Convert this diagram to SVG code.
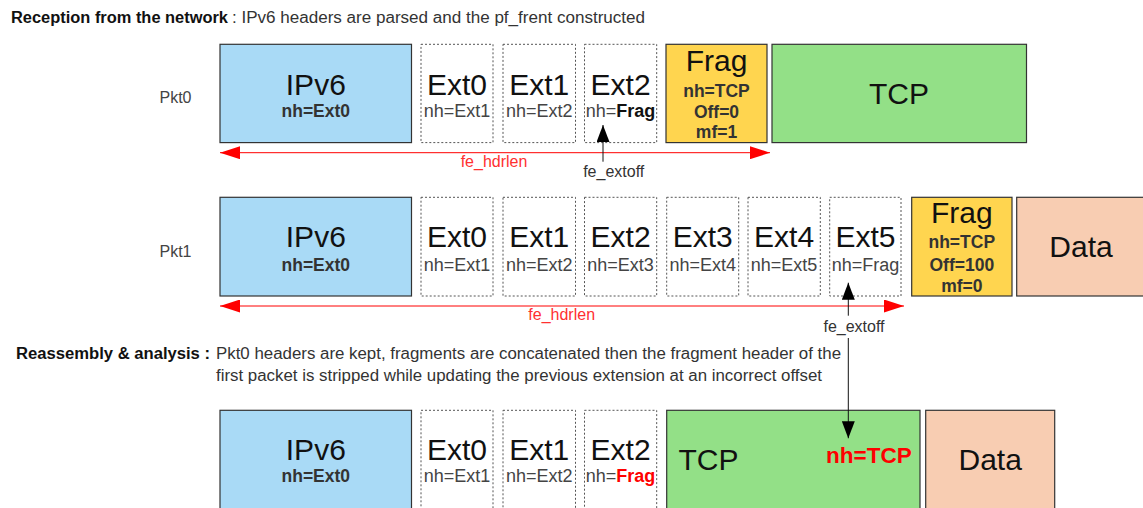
<svg xmlns="http://www.w3.org/2000/svg" width="1143" height="508" viewBox="0 0 1143 508">
<defs>
<style>
text{font-family:"Liberation Sans",Arial,sans-serif}
.box{stroke:#333;stroke-width:1.2}
.ipv6{fill:#a9daf6}
.frag{fill:#ffd54f}
.tcp{fill:#93e087}
.data{fill:#f8cdb2}
.ext{fill:#fff;stroke:#555;stroke-width:1;stroke-dasharray:2,2}
.big{font-size:30px;fill:#111;text-anchor:middle}
.sub{font-size:18px;fill:#444;text-anchor:middle}
.subb{font-size:17.5px;font-weight:bold;fill:#333;text-anchor:middle}
.lbl{font-size:16px;fill:#444}
.hdr{font-size:16px;fill:#333}
.hdrb{font-size:16px;fill:#111;font-weight:bold}
.red{stroke:#ff0000;stroke-width:1;fill:none}
.blk{stroke:#111;stroke-width:1;fill:none}
</style>
<marker id="ra" markerUnits="userSpaceOnUse" markerWidth="20" markerHeight="13" refX="20" refY="6.5" orient="auto-start-reverse"><path d="M0,0 L20,6.5 L0,13 z" fill="#ff0000"/></marker>
<marker id="ba" markerUnits="userSpaceOnUse" markerWidth="17" markerHeight="13" refX="17" refY="6.5" orient="auto"><path d="M0,0 L17,6.5 L0,13 z" fill="#000"/></marker>
</defs>
<rect width="1143" height="508" fill="#fff"/>

<g id="title">
<text x="11" y="23.3" class="hdrb" textLength="217" lengthAdjust="spacingAndGlyphs">Reception from the network</text>
<text x="232" y="23.3" class="hdr" textLength="413" lengthAdjust="spacingAndGlyphs">: IPv6 headers are parsed and the pf_frent constructed</text>
</g>
<g id="title2">
<text x="16" y="359" class="hdrb" textLength="194" lengthAdjust="spacingAndGlyphs">Reassembly &amp; analysis :</text>
<text x="216" y="359" class="hdr" textLength="625" lengthAdjust="spacingAndGlyphs">Pkt0 headers are kept, fragments are concatenated then the fragment header of the</text>
<text x="216" y="381" class="hdr" textLength="606" lengthAdjust="spacingAndGlyphs">first packet is stripped while updating the previous extension at an incorrect offset</text>
</g>

<g id="pkt0-label"><text x="159.5" y="103.3" class="lbl">Pkt0</text></g>
<g id="pkt1-label"><text x="159.5" y="256.7" class="lbl">Pkt1</text></g>

<!-- Row 0 -->
<g id="r0-ipv6"><rect x="220" y="44.3" width="191.5" height="98.3" class="box ipv6"/><text x="315.8" y="95" class="big">IPv6</text><text x="315.8" y="116.7" class="subb">nh=Ext0</text></g>
<g id="r0-ext0"><rect x="421" y="44.3" width="72" height="98.3" class="ext"/><text x="457" y="95" class="big">Ext0</text><text x="457" y="116.7" class="sub">nh=Ext1</text></g>
<g id="r0-ext1"><rect x="503" y="44.3" width="72.5" height="98.3" class="ext"/><text x="539.2" y="95" class="big">Ext1</text><text x="539.2" y="116.7" class="sub">nh=Ext2</text></g>
<g id="r0-ext2"><rect x="584.5" y="44.3" width="72.2" height="98.3" class="ext"/><text x="620.6" y="95" class="big">Ext2</text><text x="620.6" y="116.7" class="sub">nh=<tspan font-weight="bold" fill="#111">Frag</tspan></text></g>
<g id="r0-frag"><rect x="666" y="44.3" width="101" height="98.3" class="box frag"/><text x="716.5" y="71" class="big">Frag</text><text x="716.5" y="96.7" class="subb">nh=TCP</text><text x="716.5" y="117.7" class="subb">Off=0</text><text x="716.5" y="138.3" class="subb">mf=1</text></g>
<g id="r0-tcp"><rect x="772" y="44.3" width="254.5" height="98.3" class="box tcp"/><text x="899" y="104" class="big">TCP</text></g>

<!-- Row 1 -->
<g id="r1-ipv6"><rect x="220" y="197.3" width="191.5" height="98.7" class="box ipv6"/><text x="315.8" y="246.7" class="big">IPv6</text><text x="315.8" y="271" class="subb">nh=Ext0</text></g>
<g id="r1-ext0"><rect x="421" y="197.3" width="72" height="98.7" class="ext"/><text x="457" y="246.7" class="big">Ext0</text><text x="457" y="271" class="sub">nh=Ext1</text></g>
<g id="r1-ext1"><rect x="503" y="197.3" width="72.5" height="98.7" class="ext"/><text x="539.2" y="246.7" class="big">Ext1</text><text x="539.2" y="271" class="sub">nh=Ext2</text></g>
<g id="r1-ext2"><rect x="584.5" y="197.3" width="72.2" height="98.7" class="ext"/><text x="620.6" y="246.7" class="big">Ext2</text><text x="620.6" y="271" class="sub">nh=Ext3</text></g>
<g id="r1-ext3"><rect x="666.7" y="197.3" width="72" height="98.7" class="ext"/><text x="702.7" y="246.7" class="big">Ext3</text><text x="702.7" y="271" class="sub">nh=Ext4</text></g>
<g id="r1-ext4"><rect x="748" y="197.3" width="72.3" height="98.7" class="ext"/><text x="784.1" y="246.7" class="big">Ext4</text><text x="784.1" y="271" class="sub">nh=Ext5</text></g>
<g id="r1-ext5"><rect x="829.7" y="197.3" width="71.3" height="98.7" class="ext"/><text x="865.4" y="246.7" class="big">Ext5</text><text x="865.4" y="271" class="sub">nh=Frag</text></g>
<g id="r1-frag"><rect x="911.7" y="197.3" width="100.3" height="98.7" class="box frag"/><text x="961.8" y="222.7" class="big">Frag</text><text x="961.8" y="248" class="subb">nh=TCP</text><text x="961.8" y="271" class="subb">Off=100</text><text x="961.8" y="291.7" class="subb">mf=0</text></g>
<g id="r1-data"><rect x="1016.7" y="197.3" width="130" height="98.7" class="box data"/><text x="1081" y="256.7" class="big">Data</text></g>

<!-- Row 2 -->
<g id="r2-ipv6"><rect x="220" y="410.3" width="191.5" height="110" class="box ipv6"/><text x="315.8" y="460" class="big">IPv6</text><text x="315.8" y="481.7" class="subb">nh=Ext0</text></g>
<g id="r2-ext0"><rect x="421" y="410.3" width="72" height="110" class="ext"/><text x="457" y="460" class="big">Ext0</text><text x="457" y="481.7" class="sub">nh=Ext1</text></g>
<g id="r2-ext1"><rect x="503" y="410.3" width="72.5" height="110" class="ext"/><text x="539.2" y="460" class="big">Ext1</text><text x="539.2" y="481.7" class="sub">nh=Ext2</text></g>
<g id="r2-ext2"><rect x="584.5" y="410.3" width="72.2" height="110" class="ext"/><text x="620.6" y="460" class="big">Ext2</text><text x="620.6" y="481.7" class="sub">nh=<tspan font-weight="bold" fill="#ff0000">Frag</tspan></text></g>
<g id="r2-tcp"><rect x="666.7" y="410.3" width="253.3" height="110" class="box tcp"/><text x="678.5" y="470" class="big" style="text-anchor:start">TCP</text><text x="911.7" y="462.7" font-size="22.5" font-weight="bold" fill="#ff0000" text-anchor="end">nh=TCP</text></g>
<g id="r2-data"><rect x="925.7" y="410.3" width="129" height="110" class="box data"/><text x="990.2" y="470" class="big">Data</text></g>

<g id="connectors">
<line x1="220" y1="152.7" x2="770" y2="152.7" class="red" marker-start="url(#ra)" marker-end="url(#ra)"/>
<text x="494" y="166.7" font-size="16" fill="#ff3030" text-anchor="middle">fe_hdrlen</text>
<line x1="603" y1="161.7" x2="603" y2="125" class="blk" marker-end="url(#ba)"/>
<text x="613.7" y="176.7" font-size="16" fill="#333" text-anchor="middle">fe_extoff</text>

<line x1="220" y1="306" x2="904" y2="306" class="red" marker-start="url(#ra)" marker-end="url(#ra)"/>
<text x="561.7" y="320" font-size="16" fill="#ff3030" text-anchor="middle">fe_hdrlen</text>
<line x1="848.3" y1="315.7" x2="848.3" y2="282.7" class="blk" marker-end="url(#ba)"/>
<text x="854" y="331.7" font-size="16" fill="#333" text-anchor="middle">fe_extoff</text>

<line x1="848.3" y1="338" x2="848.3" y2="438.3" class="blk" marker-end="url(#ba)"/>
</g>
</svg>
